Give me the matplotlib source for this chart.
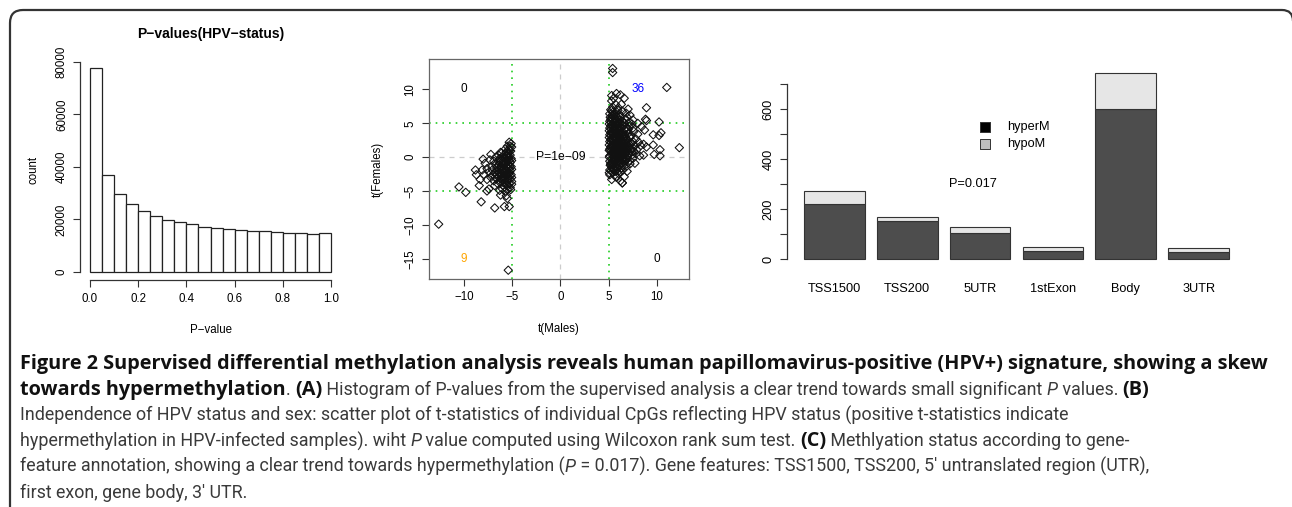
import matplotlib
matplotlib.use("Agg")
import numpy as np
import matplotlib.pyplot as plt
from matplotlib import font_manager
from matplotlib.patches import PathPatch
from matplotlib.path import Path
from matplotlib.transforms import IdentityTransform

W, H = 1292, 507

# panel A: histogram of P-values (20 bins of width 0.05)
bin_edges = np.linspace(0, 1, 21)
bin_counts = [77700, 36800, 29600, 26000, 23200, 21300, 19900, 19000, 18300, 17100,
              16800, 16300, 16000, 15500, 15400, 15200, 14900, 14700, 14600, 14900]

# panel B: t statistics (males, females) of selected CpGs
left_pts = [(-5.1, 2.0), (-5.2, 1.6), (-5.3, 1.2), (-5.15, 0.9), (-5.4, 0.6), (-5.2, 0.3), (-5.5, 0.1),
            (-5.1, -0.2), (-5.3, -0.5), (-5.6, -0.4), (-5.2, -0.8), (-5.4, -1.1), (-5.7, -0.9), (-5.1, -1.4),
            (-5.3, -1.7), (-5.6, -1.5), (-5.9, -1.2), (-5.2, -2.0), (-5.5, -2.3), (-5.8, -2.0), (-6.1, -1.7),
            (-5.1, -2.6), (-5.4, -2.9), (-5.7, -2.7), (-6.0, -2.5), (-6.3, -2.2), (-5.2, -3.2), (-5.5, -3.5),
            (-5.8, -3.3), (-6.1, -3.0), (-6.4, -2.8), (-5.3, -3.9), (-5.6, -4.1), (-5.9, -3.8), (-6.2, -3.6),
            (-5.2, -4.5), (-5.5, -4.8), (-5.8, -4.4), (-6.0, -4.7), (-5.6, 0.8), (-5.8, 0.4), (-6.0, 0.0),
            (-5.9, -0.5), (-6.2, -0.7), (-6.0, -1.0), (-6.4, -1.2), (-6.2, -1.5), (-6.6, -1.6), (-6.5, -2.0),
            (-6.8, -2.3), (-6.7, -1.1), (-6.9, -0.6), (-7.1, -1.4), (-7.0, -2.6), (-6.6, -3.2), (-6.9, -3.5),
            (-7.2, -3.0), (-7.4, -2.2), (-7.6, -1.7), (-7.3, -0.4), (-6.4, 0.3), (-6.7, 0.0), (-5.5, 1.6),
            (-5.3, 2.2), (-5.7, 1.2), (-6.1, 0.6), (-6.3, -0.2), (-5.4, -0.2), (-5.8, -1.6), (-5.35, -2.5),
            (-5.95, -2.9), (-6.5, -3.9), (-6.8, -4.2), (-7.6, -3.3), (-7.9, -2.6), (-8.1, -1.9), (-7.8, -0.9),
            (-8.0, -0.3), (-7.2, 0.4), (-6.2, 0.7), (-7.4, -4.7), (-6.3, -4.9), (-5.7, -5.0), (-8.4, -4.2),
            (-5.05, 1.5), (-5.25, 1.0), (-5.45, 0.4), (-5.35, -0.1), (-5.05, -0.5), (-5.5, -0.6), (-5.25, -1.3),
            (-5.45, -1.6), (-5.05, -1.8), (-5.65, -1.9), (-5.25, -2.3), (-5.6, -2.6), (-5.05, -3.0), (-5.4, -3.2),
            (-5.75, -3.0), (-5.05, -3.6), (-5.4, -4.2), (-5.05, -4.0), (-5.7, -3.7), (-5.9, -2.3), (-6.05, -2.0),
            (-6.25, -2.6), (-6.1, -3.3), (-5.75, -1.1), (-5.95, -0.8), (-6.15, -1.3), (-5.7, -0.1), (-5.55, 0.3),
            (-6.35, -1.8), (-6.55, -2.5), (-6.75, -2.9), (-7.05, -1.9), (-6.45, -0.6), (-5.15, -4.8),
            (-12.6, -9.9), (-5.4, -16.7), (-10.5, -4.4), (-9.8, -5.2), (-8.2, -6.6), (-6.8, -7.5), (-5.8, -7.3),
            (-5.3, -7.3), (-5.5, -6.1), (-8.8, -1.9), (-8.7, -2.6), (-8.3, -3.3), (-7.6, -5.0), (-6.2, -5.6),
            (-5.6, -5.7)]

right_pts = [(5.3, -3.3), (5.8, -3.0), (6.2, -3.5), (6.4, -3.8), (5.1, -2.6), (5.6, -2.7), (6.0, -2.4),
             (6.6, -2.9), (5.4, -2.2), (6.9, -2.1),
             (5.1, -1.9), (5.3, -1.5), (5.5, -1.8), (5.7, -1.3), (5.9, -1.7), (6.1, -1.2), (6.3, -1.6),
             (6.5, -1.1), (6.8, -1.4), (7.2, -1.0), (7.7, -0.9), (5.2, -1.1), (5.45, -1.05), (5.8, -1.95),
             (6.05, -2.0),
             (5.1, -0.6), (5.3, -0.3), (5.5, -0.8), (5.7, -0.2), (5.9, -0.7), (6.1, -0.4), (6.3, -0.9),
             (6.5, -0.1), (6.7, -0.6), (6.9, -0.3), (7.2, -0.5), (7.5, -0.2), (5.2, -0.9), (5.6, -0.5),
             (6.0, -0.1), (6.4, -0.4), (7.0, -0.8),
             (5.1, 0.2), (5.3, 0.6), (5.5, 0.1), (5.7, 0.8), (5.9, 0.3), (6.1, 0.7), (6.3, 0.2), (6.5, 0.9),
             (6.7, 0.4), (6.9, 0.1), (7.1, 0.6), (7.4, 0.3), (7.8, 0.5), (8.2, 0.2), (5.2, 0.9), (5.6, 0.4),
             (6.0, 0.95), (6.4, 0.5), (6.8, 0.8), (7.6, 0.9), (8.6, 0.3), (9.7, 0.4), (10.3, 0.2),
             (5.1, 1.2), (5.3, 1.7), (5.5, 1.3), (5.7, 1.9), (5.9, 1.4), (6.1, 1.1), (6.3, 1.8), (6.5, 1.3),
             (6.7, 1.6), (6.9, 1.2), (7.2, 1.8), (7.5, 1.4), (7.9, 1.1), (8.3, 1.7), (8.9, 1.5), (5.2, 1.5),
             (5.6, 1.1), (6.0, 1.6), (6.4, 1.05), (6.8, 1.95), (7.3, 1.2), (8.6, 1.9), (9.6, 1.8), (10.3, 1.1),
             (12.3, 1.4),
             (5.1, 2.3), (5.3, 2.8), (5.5, 2.1), (5.7, 2.6), (5.9, 2.2), (6.1, 2.9), (6.3, 2.4), (6.5, 2.7),
             (6.7, 2.1), (6.9, 2.5), (7.2, 2.9), (7.5, 2.3), (7.8, 2.7), (8.1, 2.2), (5.2, 2.6), (5.6, 2.9),
             (6.0, 2.5), (6.4, 2.1), (6.8, 2.8), (7.0, 2.3),
             (5.1, 3.3), (5.3, 3.8), (5.5, 3.1), (5.7, 3.6), (5.9, 3.2), (6.1, 3.9), (6.3, 3.4), (6.5, 3.7),
             (6.7, 3.1), (7.0, 3.5), (7.3, 3.2), (7.6, 3.8), (8.0, 3.4), (5.2, 3.6), (5.6, 3.9), (6.0, 3.5),
             (6.4, 3.1), (6.85, 3.85), (8.7, 4.0), (9.6, 3.3), (10.2, 3.2), (10.4, 3.6),
             (5.1, 4.3), (5.3, 4.8), (5.5, 4.1), (5.7, 4.6), (5.9, 4.2), (6.1, 4.9), (6.3, 4.4), (6.5, 4.7),
             (6.8, 4.2), (7.1, 4.6), (7.5, 4.3), (8.0, 5.0), (8.4, 4.5), (5.2, 4.6), (5.6, 4.4), (6.0, 4.8),
             (6.6, 4.1), (7.4, 4.9),
             (5.1, 5.3), (5.3, 5.8), (5.5, 5.2), (5.7, 5.7), (5.9, 5.4), (6.2, 5.9), (6.4, 5.3), (6.7, 5.6),
             (7.1, 5.2), (7.5, 5.5), (8.8, 5.6), (8.9, 5.4), (10.2, 5.2), (5.2, 5.6), (6.0, 5.1), (6.9, 5.9),
             (5.1, 6.4), (5.3, 6.9), (5.5, 6.2), (5.8, 6.7), (6.1, 6.3), (6.4, 6.8), (6.8, 6.5), (7.2, 6.2),
             (5.6, 6.5), (7.0, 7.1), (5.2, 7.0),
             (5.4, 7.4), (5.7, 7.8), (6.3, 7.8), (6.0, 7.3), (5.3, 8.3), (6.6, 8.7), (5.5, 8.7), (5.8, 9.4),
             (5.3, 9.1), (8.9, 7.3), (6.2, 9.2),
             (5.05, -2.3), (5.25, -2.0), (5.45, -1.6), (5.65, -2.1), (5.85, -1.4), (6.25, -2.2), (6.45, -1.9),
             (5.15, -1.2), (5.35, -0.8), (5.55, -0.3), (5.75, -0.9), (5.95, -0.1), (6.15, -0.8), (6.35, -0.3),
             (6.55, -0.7), (5.05, 0.0), (5.25, 0.4), (5.45, 0.7), (5.65, 0.2), (5.85, 0.6), (6.05, 0.3),
             (6.25, 0.9), (6.45, 0.2), (6.65, 0.7), (5.05, 1.0), (5.25, 1.3), (5.45, 1.7), (5.65, 1.4),
             (5.85, 1.0), (6.05, 1.3), (6.25, 1.5), (6.45, 1.7), (6.65, 1.2), (5.05, 1.8), (5.25, 2.2),
             (5.45, 2.5), (5.65, 2.1), (5.85, 2.7), (6.05, 2.1), (6.25, 2.8), (6.45, 2.4), (6.6, 2.9),
             (5.05, 2.9), (5.25, 3.2), (5.45, 3.5), (5.65, 3.1), (5.85, 3.8), (6.05, 3.2), (6.25, 3.7),
             (6.5, 3.3), (5.05, 3.9), (5.25, 4.2), (5.45, 4.5), (5.65, 4.0), (5.85, 4.7), (6.05, 4.3),
             (6.3, 4.8), (5.05, 4.9), (5.25, 5.2), (5.45, 5.5), (5.65, 5.1), (5.85, 5.9), (6.1, 5.5),
             (5.35, 6.2), (5.75, 6.1), (5.15, 5.9), (5.4, 6.6), (5.95, 6.9), (6.15, 1.95), (6.35, 0.55),
             (6.75, 2.45), (6.95, 1.65), (7.05, 0.35), (7.15, 3.0), (6.85, -0.15), (7.3, 2.1), (7.4, 0.8),
             (7.7, 1.7), (7.0, 4.1), (6.6, 5.0),
             (5.4, 13.1), (5.4, 12.5), (11.0, 10.3), (6.4, -3.8)]

quad_counts = ["0", "36", "9", "0"]
quad_pos = [(-10, 10), (8, 10), (-10, -15), (10, -15)]
quad_colors = ["black", "blue", "orange", "black"]

# panel C: hyper / hypo methylated CpGs per gene feature
features = ["TSS1500", "TSS200", "5UTR", "1stExon", "Body", "3UTR"]
hyperM = [220, 153, 105, 32, 600, 28]
hypoM = [53, 16, 24, 15, 143, 16]

plt.rcParams["font.family"] = ["Liberation Sans", "DejaVu Sans"]
plt.rcParams["axes.linewidth"] = 0.9

fig = plt.figure(figsize=(W / 100, H / 100), dpi=100)


def box(x0, y0, x1, y1):
    return [x0 / W, 1 - y1 / H, (x1 - x0) / W, (y1 - y0) / H]


axcol = "#333333"

# ---- A: histogram
axA = fig.add_axes(box(80.4, 59.8, 340.6, 280))
axA.bar(bin_edges[:-1], bin_counts, width=0.05, align="edge", facecolor="white",
        edgecolor="#222222", linewidth=0.9)
axA.set_xlim(-0.04, 1.04)
axA.set_ylim(-3108, 80808)
for s in ["top", "right"]:
    axA.spines[s].set_visible(False)
axA.spines["bottom"].set_bounds(0, 1)
axA.spines["left"].set_bounds(0, 80000)
axA.set_xticks(np.arange(0, 1.01, 0.2))
axA.set_xticklabels(["0.0", "0.2", "0.4", "0.6", "0.8", "1.0"])
axA.set_yticks(np.arange(0, 80001, 20000))
axA.set_yticklabels(["0", "20000", "40000", "60000", "80000"], rotation=90, va="center")
axA.set_title("P\u2212values(HPV\u2212status)", fontsize=10, fontweight="bold", pad=15.5)
axA.set_xlabel("P\u2212value", fontsize=8.3, labelpad=14)
axA.set_ylabel("count", fontsize=8.3, labelpad=12)

# ---- B: scatter of t statistics
axB = fig.add_axes(box(429, 59, 689, 279))
axB.axvline(0, color="#cccccc", ls=(0, (4, 4)), lw=0.9)
axB.axhline(0, color="#cccccc", ls=(0, (4, 4)), lw=0.9)
for v in [-5, 5]:
    axB.axvline(v, color="#22cc22", ls=(0, (1, 3)), lw=1.2)
    axB.axhline(v, color="#22cc22", ls=(0, (1, 3)), lw=1.2)
pts = np.array(left_pts + right_pts)
axB.scatter(pts[:, 0], pts[:, 1], marker="D", s=18, facecolors="none",
            edgecolors="#111111", linewidths=0.75, zorder=3)
for lab, (qx, qy), c in zip(quad_counts, quad_pos, quad_colors):
    axB.text(qx, qy, lab, color=c, fontsize=8.5, ha="center", va="center")
axB.text(0, 0, "P=1e\u221209", fontsize=8.7, ha="center", va="center", zorder=4)
axB.set_xlim(-13.6, 13.3)
axB.set_ylim(-18.0, 14.5)
axB.set_xticks([-10, -5, 0, 5, 10])
axB.set_yticks([-15, -10, -5, 0, 5, 10])
axB.set_yticklabels(["\u221215", "\u221210", "\u22125", "0", "5", "10"], rotation=90, va="center")
axB.set_xlabel("t(Males)", fontsize=8.3, labelpad=14)
axB.set_ylabel("t(Females)", fontsize=8.3, labelpad=15)
for s in axB.spines.values():
    s.set_color("#666666")

# ---- C: stacked bars
axC = fig.add_axes(box(787, 66, 1246, 268))
xpos = 0.7 + 1.2 * np.arange(len(features))
axC.bar(xpos, hyperM, width=1.0, color="#4d4d4d", edgecolor="#333333", linewidth=0.8)
axC.bar(xpos, hypoM, bottom=hyperM, width=1.0, color="#e6e6e6", edgecolor="#333333", linewidth=0.8)
axC.set_xlim(-0.08, 7.48)
axC.set_ylim(-36, 772)
for s in ["top", "right", "bottom"]:
    axC.spines[s].set_visible(False)
axC.spines["left"].set_bounds(0, 700)
axC.set_yticks(np.arange(0, 701, 100))
axC.set_yticklabels(["0", "", "200", "", "400", "", "600", ""], rotation=90, va="center")
axC.set_xticks(xpos)
axC.set_xticklabels(features, fontsize=9.2)
axC.tick_params(axis="x", length=0, pad=11)
axC.tick_params(axis="y", labelsize=9.2)
axC.text(2.98, 300, "P=0.017", fontsize=9.2, ha="center", va="center")
for i, (lab, fc) in enumerate(zip(["hyperM", "hypoM"], ["black", "#bebebe"])):
    yy = 528 - i * 68
    axC.scatter([3.18], [yy], marker="s", s=50, facecolor=fc, edgecolor="#333333", linewidths=0.7)
    axC.text(3.54, yy, lab, fontsize=9.2, va="center")

for ax in [axA, axB]:
    ax.tick_params(labelsize=8.3, length=5, width=0.8, color=axcol, pad=4)
axC.tick_params(axis="y", length=5, width=0.8, color=axcol, pad=4)
for ax in [axA, axC]:
    for s in ax.spines.values():
        s.set_color(axcol)

# ---- frame: left edge, rounded top-left corner, top edge, start of the top-right corner
verts = [(10, -5), (10, H - 23), (10, H - 10), (23, H - 10), (1282, H - 10), (1293, H - 10), (1293, H - 21)]
codes = [Path.MOVETO, Path.LINETO, Path.CURVE3, Path.CURVE3, Path.LINETO, Path.CURVE3, Path.CURVE3]
fig.patches.append(PathPatch(Path(verts, codes), transform=IdentityTransform(), facecolor="none",
                             edgecolor="#333333", linewidth=1.6))

# ---- caption
installed = {f.name for f in font_manager.fontManager.ttflist}
reg_font = "Liberation Sans Narrow" if "Liberation Sans Narrow" in installed else "Roboto"
styles = {
    "b": dict(family="Open Sans", fontweight="bold", color="#111111", fontstyle="normal"),
    "n": dict(family=reg_font, fontweight="normal", color="#3a3a3a", fontstyle="normal"),
    "i": dict(family=reg_font, fontweight="normal", color="#3a3a3a", fontstyle="italic"),
}
caption = [
    [("Figure 2 Supervised differential methylation analysis reveals human papillomavirus-positive (HPV+) signature, showing a skew", "b")],
    [("towards hypermethylation", "b"), (". ", "n"), ("(A)", "b"),
     (" Histogram of P-values from the supervised analysis a clear trend towards small significant ", "n"),
     ("P", "i"), (" values. ", "n"), ("(B)", "b")],
    [("Independence of HPV status and sex: scatter plot of t-statistics of individual CpGs reflecting HPV status (positive t-statistics indicate", "n")],
    [("hypermethylation in HPV-infected samples). wiht ", "n"), ("P", "i"),
     (" value computed using Wilcoxon rank sum test. ", "n"), ("(C)", "b"),
     (" Methlyation status according to gene-", "n")],
    [("feature annotation, showing a clear trend towards hypermethylation (", "n"), ("P", "i"),
     (" = 0.017). Gene features: TSS1500, TSS200, 5\u2032 untranslated region (UTR),", "n")],
    [("first exon, gene body, 3\u2032 UTR.", "n")],
]

renderer = fig.canvas.get_renderer()


def text_width(s, size, st):
    t1 = fig.text(0, 0, "|" + s + "|", fontsize=size, **styles[st])
    t2 = fig.text(0, 0, "||", fontsize=size, **styles[st])
    w = t1.get_window_extent(renderer).width - t2.get_window_extent(renderer).width
    t1.remove()
    t2.remove()
    return w


# fit the bold and the plain caption lines to their widths in the reference
ref = 10
sizes = {"b": ref * 1255 / text_width(caption[0][0][0], ref, "b")}
plain = caption[2][0][0] + " " + caption[5][0][0]
sizes["n"] = ref * (1052 + 234) / text_width(plain, ref, "n")
sizes["i"] = sizes["n"]

for i, line in enumerate(caption):
    x = 20
    yb = 369 + 25.8 * i
    for s, st in line:
        fig.text(x / W, 1 - yb / H, s, fontsize=sizes[st], va="baseline", **styles[st])
        x += text_width(s, sizes[st], st)

fig.savefig("out.png", dpi=100)
